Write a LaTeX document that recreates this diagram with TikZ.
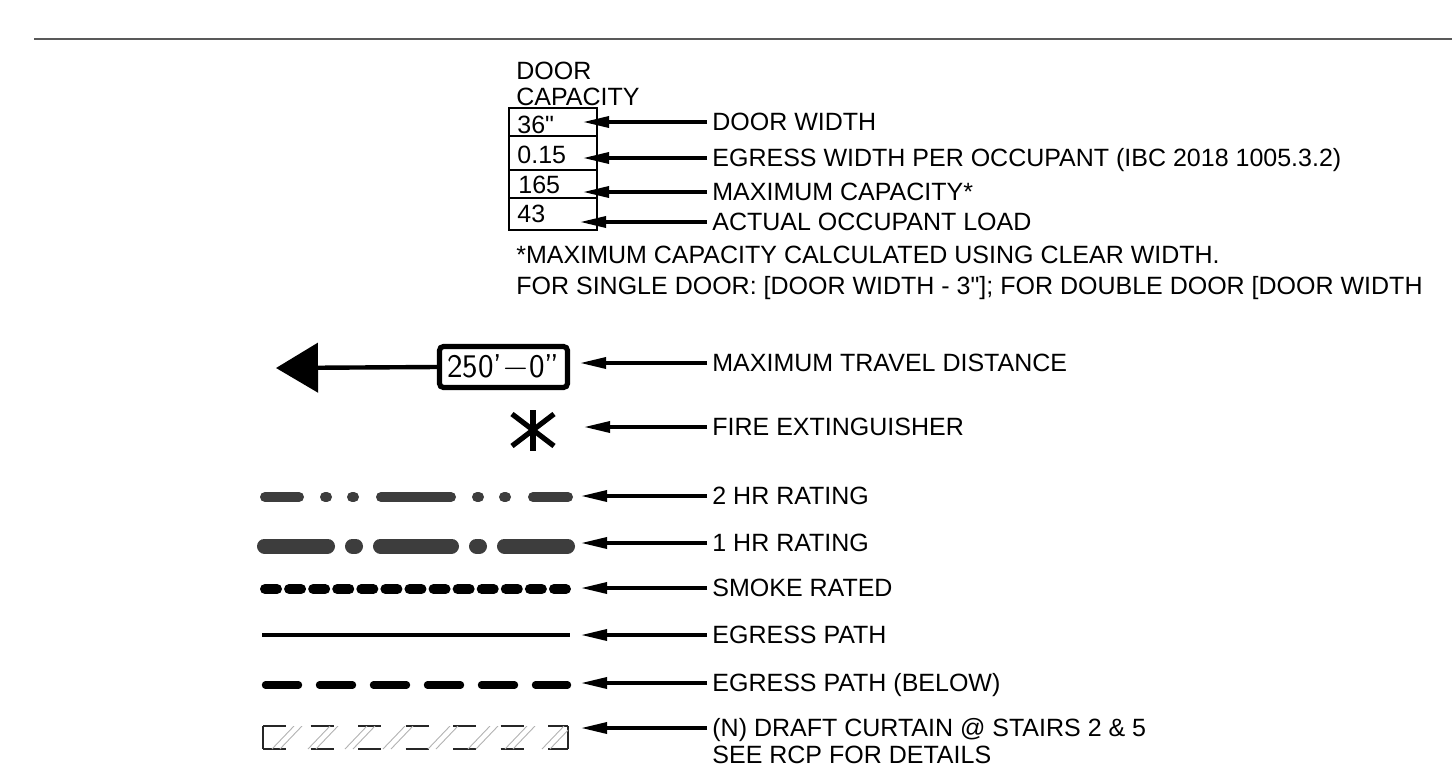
\documentclass[tikz,border=0pt]{standalone}
\usepackage{fontspec}
\setmainfont[Ligatures=TeXOff]{Liberation Sans}
\usetikzlibrary{arrows.meta}
\tikzset{
  leader/.style={line width=1.7pt, -{Triangle[length=13pt,width=5.5pt]}},
  lbl/.style={anchor=west, inner xsep=2.5pt, inner ysep=0pt, text height=8.95pt, text depth=0pt},
  cell/.style={anchor=west, inner sep=0pt, text height=8.95pt, text depth=0pt},
  hrtwo/.style={line width=5pt, line cap=round, color=black!76,
    dash pattern=on 35pt off 13pt on 1pt off 12.5pt on 1pt off 13.5pt, dash phase=18pt},
  hrone/.style={line width=7.5pt, line cap=round, color=black!76,
    dash pattern=on 35.5pt off 12.5pt on 1.5pt off 12.5pt, dash phase=4pt},
  smoke/.style={line width=5pt, line cap=round, dash pattern=on 6pt off 6.04pt},
  egress/.style={line width=2pt},
  egressbelow/.style={line width=3.7pt, line cap=round, dash pattern=on 16.5pt off 10.5pt},
  curtain/.style={line width=1pt, color=black!85},
  hatch/.style={line width=0.45pt, color=black!30},
}
\begin{document}
\begin{tikzpicture}[x=0.5pt, y=-0.5pt, font=\fontsize{12.5}{15}\selectfont]
\useasboundingbox (0,0) rectangle (1452,777);
\clip (0,0) rectangle (1452,777);
% rule across the top
\draw[line width=1.4pt, color=black!65] (34,39) -- (1452,39);

% door capacity table
\node[cell] (hdra) at (516,71) {DOOR};
\node[cell] (hdrb) at (516,97) {CAPACITY};
\draw[line width=0.6pt] (509,108) rectangle (597,230);
\foreach \yy in {136,170,198}
  \draw[line width=0.6pt] (509,\yy) -- (597,\yy);
\node[cell] (vwidth) at (517,125) {36"};
\node[cell] (vrate) at (517,155) {0.15};
\node[cell] (vcap) at (518,185) {165};
\node[cell] (vload) at (517,214) {43};

\coordinate (twidth) at (583,122);
\coordinate (trate) at (583,158);
\coordinate (tcap) at (583,192);
\coordinate (tload) at (580,222);
\node[lbl] (lwidth) at (707,122) {DOOR WIDTH};
\node[lbl] (lrate) at (707,158) {EGRESS WIDTH PER OCCUPANT (IBC 2018 1005.3.2)};
\node[lbl] (lcap) at (707,192) {MAXIMUM CAPACITY*};
\node[lbl] (lload) at (707,222) {ACTUAL OCCUPANT LOAD};
\draw[leader] (lwidth.west) -- (twidth);
\draw[leader] (lrate.west) -- (trate);
\draw[leader] (lcap.west) -- (tcap);
\draw[leader] (lload.west) -- (tload);

\node[cell] (notea) at (516,255) {*MAXIMUM CAPACITY CALCULATED USING CLEAR WIDTH.};
\node[cell] (noteb) at (516,286) {FOR SINGLE DOOR: [DOOR WIDTH - 3"]; FOR DOUBLE DOOR [DOOR WIDTH};

% travel distance
\node[draw, line width=2.6pt, rounded corners=2pt, inner sep=0pt,
  minimum width=64pt, minimum height=20.5pt] (dist) at (503.5,367)
  {\sffamily\fontsize{16.5}{18}\selectfont 250’$-$0”};
\coordinate (distend) at (276,368);
\draw[line width=2.2pt, -{Triangle[length=21pt,width=24.5pt]}] (dist.west) -- (distend);

% fire extinguisher
\coordinate (ext) at (533,430);
\draw[line width=2.6pt] (533,410) -- (533,451);
\draw[line width=2.6pt] (512,414) -- (554,446);
\draw[line width=2.6pt] (554,414) -- (512,446);

% line types
\draw[hrtwo] (265,497) -- (568,497);
\draw[hrone] (264.5,546) -- (567.5,546);
\draw[smoke] (265,589) -- (568,589);
\draw[egress] (262,635) -- (570,635);
\draw[egressbelow] (265.5,685) -- (567.5,685);

% draft curtain
\draw[curtain] (263,726) -- (263,749);
\draw[curtain] (568,726) -- (568,749);
\draw[curtain, dash pattern=on 11.5pt off 12.25pt] (263,726) -- (568,726);
\draw[curtain, dash pattern=on 11.5pt off 12.25pt] (263,749) -- (568,749);
\begin{scope}
  \clip (263,726) rectangle (568,749);
  \foreach \b in {272,308,345,383,428,468,505,542} {
    \draw[hatch] (\b,749) -- ++(22,-23);
    \draw[hatch] (\b+8,749) -- ++(22,-23);
  }
\end{scope}

% legend leaders
\coordinate (tdist) at (580,363);
\coordinate (text) at (584,427);
\coordinate (thrtwo) at (581,496);
\coordinate (throne) at (581,543);
\coordinate (tsmoke) at (581,588);
\coordinate (tegress) at (581,635);
\coordinate (tbelow) at (581,683);
\coordinate (tcurtain) at (581,728);
\node[lbl] (ldist) at (707,363) {MAXIMUM TRAVEL DISTANCE};
\node[lbl] (lext) at (707,427) {FIRE EXTINGUISHER};
\node[lbl] (lhrtwo) at (707,496) {2 HR RATING};
\node[lbl] (lhrone) at (707,543) {1 HR RATING};
\node[lbl] (lsmoke) at (707,588) {SMOKE RATED};
\node[lbl] (legress) at (707,635) {EGRESS PATH};
\node[lbl] (lbelow) at (707,683) {EGRESS PATH (BELOW)};
\node[lbl] (lcurtain) at (707,728) {(N) DRAFT CURTAIN @ STAIRS 2 \& 5};
\node[lbl] (lcurtainb) at (707,755) {SEE RCP FOR DETAILS};
\draw[leader] (ldist.west) -- (tdist);
\draw[leader] (lext.west) -- (text);
\draw[leader] (lhrtwo.west) -- (thrtwo);
\draw[leader] (lhrone.west) -- (throne);
\draw[leader] (lsmoke.west) -- (tsmoke);
\draw[leader] (legress.west) -- (tegress);
\draw[leader] (lbelow.west) -- (tbelow);
\draw[leader] (lcurtain.west) -- (tcurtain);
\end{tikzpicture}
\end{document}
